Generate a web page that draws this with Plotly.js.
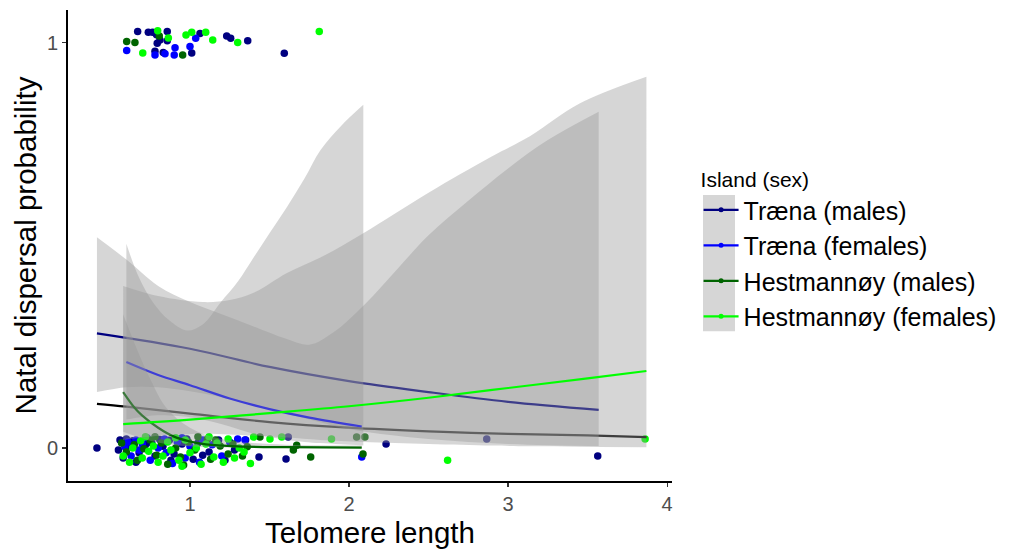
<!DOCTYPE html>
<html><head><meta charset="utf-8">
<script src="https://cdn.plot.ly/plotly-3.0.1.min.js"></script>
<style>html,body{margin:0;padding:0;background:#fff}#chart{width:1016px;height:553px}</style>
</head><body><div id="chart"></div>
<script>
// ---------- series names & colours ----------
const seriesNames = ['Træna (males)', 'Træna (females)', 'Hestmannøy (males)', 'Hestmannøy (females)'];
const seriesColors = ['#000080', '#0000FF', '#006400', '#00FF00'];

// ---------- jittered observations (telomere length, dispersal 0/1 + jitter) ----------
const navyX = [0.671,0.738,0.765,0.79,0.811,0.794,0.78,0.857,0.857,0.832,1.063,1.011,1.231,1.256,1.363,1.593,
  0.415,0.56,0.60,0.64,0.74,0.81,0.87,0.55,0.62,0.68,0.72,0.78,0.83,0.90,0.95,1.02,1.05,1.12,1.18,1.22,0.66,0.88,0.98,1.35,1.28,1.434,1.604,1.618,2.233,2.866,3.564,0.58,0.76,1.08];
const navyY = [1.028,1.026,1.026,1.02,1.007,0.999,0.979,1.028,1.005,0.976,1.023,0.975,1.017,1.011,1.005,0.974,
  0.0,0.02,0.022,0.018,0.02,0.021,0.019,-0.005,0.005,-0.012,0.008,-0.02,0.004,-0.015,0.01,-0.028,0.012,-0.01,0.02,-0.03,-0.035,-0.03,0.022,0.02,-0.005,-0.022,-0.027,0.027,0.01,0.022,-0.02,-0.025,0.012,-0.018];

const blueX = [0.602,0.78,0.843,0.906,0.901,1.036,1.0,
  0.66,0.84,1.08,0.59,0.63,0.70,0.75,0.80,0.85,0.92,0.97,1.0,1.06,1.14,1.25,0.73,0.89,0.61,1.346,1.20,2.08,0.95,0.68,1.30];
const blueY = [0.981,0.970,0.973,0.988,0.970,1.011,0.991,
  0.02,0.022,0.02,0.003,-0.02,0.01,-0.03,0.0,-0.012,0.015,-0.025,0.004,-0.035,0.008,0.015,0.025,-0.038,0.015,0.02,-0.02,-0.022,0.025,-0.005,0.022];

const dkgreenX = [0.602,0.654,0.807,0.954,
  0.57,0.60,0.65,0.67,0.71,0.75,0.79,0.82,0.86,0.91,0.94,0.99,1.03,1.11,1.16,1.13,1.19,1.24,1.27,1.33,1.44,1.65,1.671,1.759,2.048,2.10,2.088,0.78,0.96,1.05,1.36];
const dkgreenY = [1.003,1.001,1.017,0.970,
  0.012,-0.01,0.008,-0.03,-0.002,0.02,-0.018,0.012,-0.04,0.0,-0.022,0.015,-0.005,0.022,0.02,-0.028,0.005,-0.015,0.01,-0.02,0.027,-0.005,0.007,-0.022,0.027,0.027,-0.015,0.028,-0.042,0.028,0.003];

const greenX = [0.703,0.797,0.864,0.975,1.011,1.099,1.143,1.30,1.813,
  0.58,0.62,0.64,0.69,0.70,0.74,0.77,0.80,0.83,0.86,0.88,0.93,0.97,1.00,1.04,1.07,1.10,1.15,1.17,1.21,1.24,1.28,1.31,1.38,1.40,1.503,1.577,1.89,2.62,3.862,0.72,0.91,1.12,0.95,1.34];
const greenY = [0.975,1.03,1.012,1.019,1.026,1.026,1.007,1.001,1.028,
  -0.02,-0.035,0.0,0.018,-0.025,-0.008,0.005,-0.035,-0.02,0.015,-0.005,-0.03,0.02,-0.012,0.0,-0.04,0.01,-0.022,0.012,-0.035,0.022,-0.025,0.0,-0.038,0.027,0.022,0.027,0.022,-0.03,0.022,0.028,0.025,0.028,-0.045,-0.01];

// ---------- fitted curves ----------
const overallFitX = [0.415,0.6,1.0,1.5,2.0,2.5,3.0,3.5,3.87];
const overallFitY = [0.109,0.102,0.085,0.064,0.05,0.041,0.035,0.031,0.027];

const navyFitX = [0.415,1.0,1.5,2.0,2.5,3.0,3.57];
const navyFitY = [0.283,0.245,0.200,0.165,0.138,0.114,0.094];
const navyRibX = [0.415,0.6,0.8,1.0,1.2,1.4,1.6,1.75,1.9,2.1,2.3,2.5,2.75,3.0,3.25,3.57];
const navyRibHi = [0.52,0.465,0.40,0.36,0.33,0.30,0.27,0.255,0.285,0.355,0.44,0.525,0.61,0.69,0.76,0.83];
const navyRibLo = [0.138,0.15,0.15,0.14,0.125,0.105,0.085,0.07,0.055,0.04,0.03,0.022,0.015,0.01,0.007,0.005];

const blueFitX = [0.6,0.8,1.0,1.25,1.5,1.75,2.08];
const blueFitY = [0.212,0.18,0.155,0.122,0.096,0.075,0.053];
const blueRibX = [0.6,0.68,0.77,0.87,0.98,1.08,1.19,1.30,1.40,1.50,1.61,1.72,1.82,1.95,2.09];
const blueRibHi = [0.504,0.42,0.358,0.315,0.29,0.305,0.358,0.41,0.47,0.53,0.595,0.665,0.735,0.795,0.847];
const blueRibLo = [0.07,0.075,0.08,0.08,0.077,0.07,0.06,0.047,0.035,0.027,0.02,0.015,0.012,0.009,0.006];

const dkgreenFitX = [0.58,0.65,0.7,0.8,0.9,1.0,1.1,1.3,1.6,2.08];
const dkgreenFitY = [0.138,0.10,0.08,0.05,0.028,0.016,0.009,0.004,0.002,0.001];
const dkgreenRibX = [0.58,0.65,0.75,0.85,1.0,1.2,1.5,2.08];
const dkgreenRibHi = [0.33,0.26,0.17,0.10,0.05,0.022,0.01,0.006];
const dkgreenRibLo = [0.04,0.03,0.018,0.01,0.004,0.001,0.0,0.0];

const greenFitX = [0.58,1.0,1.5,2.0,2.5,3.0,3.5,3.87];
const greenFitY = [0.059,0.07,0.086,0.103,0.124,0.148,0.172,0.19];
const greenRibX = [0.58,0.8,1.08,1.25,1.4,1.61,1.82,2.09,2.5,2.9,3.14,3.45,3.87];
const greenRibHi = [0.40,0.375,0.36,0.365,0.383,0.432,0.47,0.53,0.63,0.72,0.77,0.85,0.916];
const greenRibLo = [0.02,0.03,0.035,0.033,0.03,0.026,0.02,0.015,0.01,0.006,0.004,0.003,0.002];

// ---------- tick labels ----------
const xTicks = [1,2,3,4];
const yTicks = [0,1];
const yTickText = ['0','1'];

function ribbon(x, hi, lo) {
  const edge = {width: 0.5, color: 'rgba(0,0,0,0)', shape: 'spline', smoothing: 1.0};
  return [
    {x: x, y: lo, type: 'scatter', mode: 'lines', line: edge, showlegend: false, hoverinfo: 'skip'},
    {x: x, y: hi, type: 'scatter', mode: 'lines', fill: 'tonexty',
      fillcolor: 'rgba(153,153,153,0.4)', line: edge, showlegend: false, hoverinfo: 'skip'}
  ];
}
function pts(x, y, c) {
  return {x: x, y: y, type: 'scatter', mode: 'markers',
    marker: {color: c, size: 7.5, line: {width: 0}}, showlegend: false, hoverinfo: 'skip'};
}
function fit(x, y, c) {
  return {x: x, y: y, type: 'scatter', mode: 'lines', line: {color: c, width: 2.2, shape: 'spline'},
    showlegend: false, hoverinfo: 'skip'};
}
function legendItem(name, c) {
  return {x: [null], y: [null], type: 'scatter', mode: 'lines+markers', name: name,
    line: {color: c, width: 2.2}, marker: {color: c, size: 5}, showlegend: true};
}

const traces = [
  pts(navyX, navyY, seriesColors[0]),
  pts(blueX, blueY, seriesColors[1]),
  pts(dkgreenX, dkgreenY, seriesColors[2]),
  pts(greenX, greenY, seriesColors[3]),
  fit(overallFitX, overallFitY, '#000000'),
  ...ribbon(navyRibX, navyRibHi, navyRibLo),
  fit(navyFitX, navyFitY, seriesColors[0]),
  ...ribbon(blueRibX, blueRibHi, blueRibLo),
  fit(blueFitX, blueFitY, seriesColors[1]),
  ...ribbon(dkgreenRibX, dkgreenRibHi, dkgreenRibLo),
  fit(dkgreenFitX, dkgreenFitY, seriesColors[2]),
  ...ribbon(greenRibX, greenRibHi, greenRibLo),
  fit(greenFitX, greenFitY, seriesColors[3])
];
seriesNames.forEach((n, i) => traces.push(legendItem(n, seriesColors[i])));

const font = 'Liberation Sans, Arial, sans-serif';
const layout = {
  width: 1016, height: 553,
  margin: {l: 68, r: 344, t: 10, b: 72},
  paper_bgcolor: '#fff', plot_bgcolor: '#fff',
  font: {family: font, color: '#000'},
  showlegend: true,
  xaxis: {
    range: [0.233, 4.031], tickvals: xTicks, ticktext: xTicks.map(String),
    showgrid: false, zeroline: false, showline: true, linecolor: '#000', linewidth: 2,
    ticks: 'outside', ticklen: 4, tickwidth: 1.1, tickcolor: '#333',
    tickfont: {size: 20, color: '#4d4d4d', family: font},
    title: {text: 'Telomere length', font: {size: 29.5, color: '#000', family: font}, standoff: 8}
  },
  yaxis: {
    range: [-0.0815, 1.081], tickvals: yTicks, ticktext: yTickText,
    showgrid: false, zeroline: false, showline: true, linecolor: '#000', linewidth: 2,
    ticks: 'outside', ticklen: 4, tickwidth: 1.1, tickcolor: '#333',
    tickfont: {size: 20, color: '#4d4d4d', family: font},
    title: {text: 'Natal dispersal probability', font: {size: 29.5, color: '#000', family: font}, standoff: 2}
  },
  legend: {
    x: 1.044, xanchor: 'left', y: 0.682, yanchor: 'top', traceorder: 'normal',
    font: {size: 25, color: '#000', family: font},
    title: {text: 'Island (sex)', font: {size: 21, color: '#000', family: font}},
    bgcolor: 'rgba(0,0,0,0)', itemwidth: 35, tracegroupgap: 0
  },
  shapes: [{
    type: 'rect', xref: 'paper', yref: 'paper', layer: 'below',
    x0: 1.0513, x1: 1.1043, y0: 0.318, y1: 0.607,
    fillcolor: '#d6d6d6', line: {width: 0}
  }]
};
Plotly.newPlot('chart', traces, layout, {staticPlot: true, displayModeBar: false});
</script>
</body></html>
